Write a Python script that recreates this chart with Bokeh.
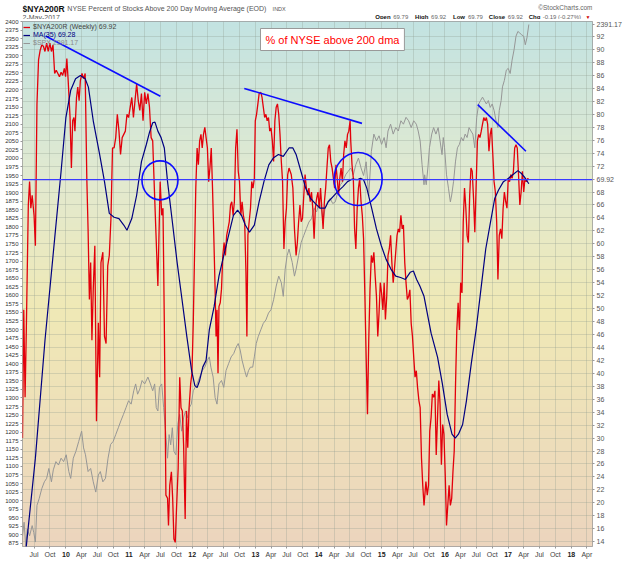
import numpy as np
from bokeh.plotting import figure
from bokeh.layouts import column
from bokeh.models import (Range1d, LinearAxis, FixedTicker, Span, Label,
                          Legend, LegendItem)
from bokeh.embed import file_html
from bokeh.resources import INLINE

FONT = "Liberation Sans"

# ---------------- data (decimal years) ----------------
red_t = [2009.313, 2009.333, 2009.354, 2009.374, 2009.405, 2009.425, 2009.445, 2009.466, 2009.496, 2009.517,
         2009.542, 2009.567, 2009.593, 2009.618, 2009.644, 2009.669, 2009.695, 2009.720, 2009.746, 2009.771,
         2009.796, 2009.822, 2009.847, 2009.873, 2009.898, 2009.924, 2009.949, 2009.975, 2009.995, 2010.015,
         2010.036, 2010.066, 2010.087, 2010.107, 2010.127, 2010.143, 2010.168, 2010.188, 2010.209, 2010.229,
         2010.255, 2010.280, 2010.305, 2010.331, 2010.351, 2010.372, 2010.392, 2010.412, 2010.433, 2010.458,
         2010.484, 2010.514, 2010.534, 2010.555, 2010.585, 2010.611, 2010.636, 2010.662, 2010.687, 2010.713,
         2010.738, 2010.763, 2010.789, 2010.814, 2010.840, 2010.865, 2010.891, 2010.916, 2010.941, 2010.967,
         2010.992, 2011.018, 2011.043, 2011.069, 2011.094, 2011.120, 2011.145, 2011.170, 2011.196, 2011.221,
         2011.247, 2011.272, 2011.298, 2011.323, 2011.349, 2011.374, 2011.400, 2011.425,
         2011.456, 2011.492, 2011.517, 2011.537, 2011.558, 2011.583, 2011.609, 2011.624, 2011.644, 2011.670,
         2011.690, 2011.710, 2011.731, 2011.751, 2011.777, 2011.802, 2011.822, 2011.843, 2011.863, 2011.888,
         2011.909, 2011.929, 2011.950, 2011.975, 2011.995, 2012.016, 2012.036, 2012.056, 2012.077, 2012.097,
         2012.117, 2012.138, 2012.158, 2012.178, 2012.199, 2012.219, 2012.240, 2012.260, 2012.280, 2012.301,
         2012.321, 2012.341, 2012.362, 2012.377, 2012.392, 2012.408, 2012.423, 2012.443, 2012.463, 2012.484,
         2012.504, 2012.525, 2012.545, 2012.565, 2012.586, 2012.606, 2012.626, 2012.647, 2012.667, 2012.687,
         2012.708, 2012.728, 2012.748, 2012.769, 2012.789, 2012.809, 2012.830, 2012.850, 2012.865, 2012.881,
         2012.901, 2012.922, 2012.942, 2012.962, 2012.983, 2012.998, 2013.018, 2013.039, 2013.059, 2013.085,
         2013.105, 2013.125, 2013.146, 2013.166, 2013.186, 2013.207, 2013.227, 2013.247, 2013.268, 2013.288,
         2013.308, 2013.329, 2013.349, 2013.369, 2013.389, 2013.410, 2013.430, 2013.451, 2013.471, 2013.491,
         2013.511, 2013.532,
         2013.567, 2013.593, 2013.618, 2013.644, 2013.664, 2013.684, 2013.705, 2013.725, 2013.745, 2013.766,
         2013.786, 2013.807, 2013.827, 2013.847, 2013.868, 2013.888, 2013.908, 2013.929, 2013.949, 2013.969,
         2013.990, 2014.010, 2014.031, 2014.051, 2014.071, 2014.092, 2014.112, 2014.132, 2014.153, 2014.173,
         2014.193, 2014.214, 2014.234, 2014.254, 2014.275, 2014.295, 2014.316, 2014.336, 2014.356, 2014.377,
         2014.397, 2014.417, 2014.438, 2014.458, 2014.478, 2014.499, 2014.509, 2014.529, 2014.550, 2014.570,
         2014.590, 2014.611, 2014.631, 2014.651, 2014.672, 2014.692, 2014.712, 2014.733, 2014.753, 2014.774,
         2014.794, 2014.814, 2014.835, 2014.855, 2014.875, 2014.896, 2014.916, 2014.937, 2014.957, 2014.977,
         2014.997, 2015.018, 2015.038, 2015.058, 2015.079, 2015.099, 2015.119, 2015.140, 2015.160, 2015.181,
         2015.201, 2015.221, 2015.242, 2015.262, 2015.282, 2015.303, 2015.323, 2015.343, 2015.364, 2015.384,
         2015.405, 2015.425, 2015.445, 2015.466, 2015.486, 2015.506, 2015.527, 2015.547, 2015.567, 2015.588,
         2015.608, 2015.629, 2015.649, 2015.669,
         2015.699, 2015.720, 2015.740, 2015.760, 2015.781, 2015.801, 2015.821, 2015.842, 2015.862, 2015.883,
         2015.903, 2015.923, 2015.944, 2015.964, 2015.984, 2016.005, 2016.025, 2016.045, 2016.066, 2016.086,
         2016.107, 2016.127, 2016.147, 2016.168, 2016.188, 2016.209, 2016.229, 2016.249, 2016.270, 2016.290,
         2016.310, 2016.331, 2016.351, 2016.371, 2016.392, 2016.412, 2016.432, 2016.453, 2016.473, 2016.493,
         2016.514, 2016.534, 2016.554, 2016.575, 2016.595, 2016.615, 2016.636, 2016.656, 2016.676, 2016.697,
         2016.717, 2016.737, 2016.758, 2016.778, 2016.798, 2016.819, 2016.839, 2016.860, 2016.880, 2016.901,
         2016.921, 2016.941, 2016.962, 2016.982, 2017.002, 2017.023, 2017.043, 2017.063, 2017.084, 2017.104,
         2017.125, 2017.145, 2017.165, 2017.186, 2017.206, 2017.227, 2017.247, 2017.267, 2017.288, 2017.308,
         2017.328]
red_v = [30.0, 49.8, 36.3, 47.0, 66.0, 69.6, 65.5, 67.5, 64.4, 59.7,
         81.6, 88.4, 89.9, 90.7, 90.5, 89.7, 91.0, 89.7, 91.0, 89.7,
         90.7, 86.3, 86.8, 86.3, 85.8, 86.5, 86.0, 87.1, 85.8, 88.6,
         85.2, 79.5, 71.7, 79.0, 79.5, 77.4, 82.6, 84.2, 82.1, 85.2,
         86.3, 85.5, 86.3, 70.1, 62.3, 51.4, 57.1, 45.1, 53.0, 59.7,
         32.6, 47.8, 39.4, 57.1, 58.7, 45.7, 44.6, 56.6, 58.2, 63.9,
         74.8, 74.8, 76.4, 80.0, 77.4, 73.8, 76.4, 76.9, 77.4, 80.0,
         79.5, 81.1, 82.6, 79.5, 82.1, 84.7, 82.1, 80.6, 83.2, 79.0,
         83.4, 81.6, 83.2, 81.1, 76.4, 75.9, 68.6, 61.8,
         53.5, 69.6, 64.4, 65.5, 47.7, 21.2, 20.7, 16.5, 22.7, 24.8,
         20.7, 14.4, 13.9, 19.1, 25.3, 39.4, 34.7, 34.2, 29.0, 17.5,
         34.2, 28.5, 34.7, 38.4, 40.0, 47.7, 58.2, 68.6, 74.8, 72.2,
         75.9, 76.9, 74.8, 76.9, 78.0, 76.4, 74.8, 69.6, 71.7, 74.8,
         68.6, 61.3, 53.0, 45.7, 49.8, 40.0, 50.3, 50.9, 53.0, 58.2,
         60.2, 58.2, 61.3, 62.3, 63.4, 66.0, 66.5, 64.4, 66.5, 74.8,
         77.7, 71.2, 69.6, 64.4, 66.5, 64.4, 63.4, 55.6, 45.7, 61.3,
         63.4, 65.5, 69.6, 68.6, 70.1, 79.0, 80.0, 81.6, 83.2, 83.4,
         82.6, 81.1, 79.5, 80.0, 79.0, 79.5, 77.4, 77.9, 75.9, 72.7,
         79.0, 81.1, 81.6, 80.0, 76.9, 72.7, 69.6, 59.2, 63.4, 65.5,
         70.7, 71.7,
         70.7, 68.6, 62.3, 58.2, 60.2, 63.4, 66.0, 63.4, 63.9, 67.5,
         70.7, 68.6, 67.5, 68.6, 66.5, 68.0, 65.5, 60.8, 65.5, 67.0,
         68.0, 65.5, 68.6, 65.5, 62.3, 66.5, 68.6, 71.7, 74.8, 75.3,
         72.7, 71.7, 70.1, 68.6, 72.2, 70.1, 67.5, 70.1, 71.7, 69.6,
         73.8, 75.9, 74.8, 76.9, 77.4, 79.0, 75.9, 72.2, 70.1, 62.3,
         59.2, 65.5, 68.6, 70.1, 66.5, 64.4, 60.8, 51.9, 42.5, 33.7,
         45.1, 53.0, 58.2, 57.1, 58.7, 55.0, 51.9, 45.7, 49.3, 54.0,
         52.4, 49.8, 54.0, 48.3, 51.9, 58.2, 59.2, 61.3, 57.1, 54.0,
         56.1, 58.7, 61.3, 62.3, 61.8, 64.4, 62.3, 62.9, 57.1, 54.0,
         51.4, 51.9, 52.9, 47.7, 45.7, 42.5, 39.4, 40.4, 37.8, 35.8,
         34.7, 26.9, 22.7, 19.6,
         23.3, 21.2, 22.7, 31.1, 33.2, 36.8, 36.3, 37.3, 27.4, 33.2,
         38.9, 35.2, 25.9, 32.1, 30.6, 24.3, 16.5, 19.6, 22.7, 19.6,
         20.7, 24.8, 28.0, 38.4, 46.7, 50.9, 46.7, 54.0, 52.4, 63.4,
         68.6, 65.5, 61.3, 60.2, 67.5, 71.7, 71.2, 67.0, 61.8, 68.6,
         75.9, 76.9, 76.4, 77.4, 78.5, 79.5, 79.0, 79.5, 78.5, 74.3,
         76.9, 77.9, 73.8, 69.6, 68.0, 63.4, 54.5, 61.3, 62.3, 60.8,
         65.5, 68.0, 66.5, 65.5, 70.1, 69.6, 70.7, 70.1, 71.2, 74.8,
         75.3, 74.8, 70.7, 66.0, 68.0, 71.2, 68.0, 70.1, 69.6, 70.1,
         69.92]

ma_t = [2009.330, 2009.374, 2009.517, 2009.669, 2009.822, 2009.924, 2010.000, 2010.076, 2010.153, 2010.229,
        2010.305, 2010.356, 2010.433, 2010.534, 2010.611, 2010.687, 2010.763, 2010.840, 2010.916, 2010.967,
        2011.043, 2011.120, 2011.196, 2011.272, 2011.323, 2011.374, 2011.410, 2011.456, 2011.507, 2011.558,
        2011.609, 2011.685, 2011.761, 2011.838, 2011.914, 2011.990, 2012.041, 2012.077, 2012.117, 2012.168,
        2012.219, 2012.270, 2012.346, 2012.423, 2012.499, 2012.575, 2012.652, 2012.718, 2012.779, 2012.840,
        2012.906, 2012.983, 2013.059, 2013.135, 2013.212, 2013.288, 2013.364, 2013.441, 2013.532, 2013.593,
        2013.644, 2013.720, 2013.796, 2013.873, 2013.949, 2014.025, 2014.102, 2014.153, 2014.229, 2014.305,
        2014.382, 2014.458, 2014.534, 2014.611, 2014.662, 2014.712, 2014.763, 2014.840, 2014.916, 2014.993,
        2015.069, 2015.145, 2015.221, 2015.298, 2015.374, 2015.450, 2015.501, 2015.552, 2015.603, 2015.669,
        2015.781, 2015.883, 2015.959, 2016.035, 2016.112, 2016.163, 2016.214, 2016.280, 2016.341, 2016.417,
        2016.493, 2016.570, 2016.646, 2016.722, 2016.788, 2016.849, 2016.926, 2017.002, 2017.079, 2017.155,
        2017.206, 2017.267, 2017.328]
ma_v = [11.0, 13.4, 26.9, 45.1, 60.8, 71.2, 79.5, 83.7, 85.5, 86.0,
        85.5, 84.2, 79.0, 73.8, 69.6, 64.7, 64.1, 63.9, 62.9, 62.1,
        63.9, 67.5, 72.7, 75.3, 77.2, 78.7, 78.8, 77.4, 76.4, 74.8,
        69.6, 63.4, 57.1, 51.4, 45.7, 40.4, 38.1, 37.8, 38.9, 41.0,
        42.0, 46.7, 50.3, 55.0, 58.2, 61.3, 64.4, 65.2, 64.4, 62.9,
        61.8, 62.9, 66.5, 69.6, 72.2, 73.3, 73.8, 73.5, 74.8, 74.8,
        73.8, 71.2, 68.6, 67.0, 66.2, 65.5, 65.5, 66.5, 67.3, 68.1,
        68.8, 69.6, 70.0, 69.9, 70.1, 69.9, 68.6, 65.5, 62.3, 59.7,
        57.6, 56.1, 55.0, 54.8, 54.5, 55.6, 55.8, 54.5, 53.5, 51.9,
        46.2, 42.5, 38.4, 33.7, 30.6, 30.0, 30.6, 32.1, 35.8, 41.5,
        46.7, 53.0, 59.2, 63.4, 67.0, 68.3, 69.6, 70.1, 70.7, 71.3,
        70.9, 70.2, 69.28]

spx_t = [2009.313, 2009.338, 2009.364, 2009.389, 2009.425, 2009.466, 2009.491, 2009.517, 2009.542, 2009.577,
         2009.618, 2009.659, 2009.695, 2009.730, 2009.771, 2009.801, 2009.842, 2009.883, 2009.924, 2009.964,
         2010.005, 2010.046, 2010.076, 2010.117, 2010.158, 2010.203, 2010.249, 2010.280, 2010.310, 2010.351,
         2010.392, 2010.433, 2010.473, 2010.514, 2010.545, 2010.585, 2010.626, 2010.667, 2010.707, 2010.748,
         2010.789, 2010.830, 2010.870, 2010.911, 2010.952, 2010.992, 2011.033, 2011.074, 2011.104, 2011.135,
         2011.170, 2011.206, 2011.247, 2011.298, 2011.338, 2011.374,
         2011.405, 2011.430, 2011.456, 2011.481, 2011.517, 2011.547, 2011.578, 2011.609, 2011.634, 2011.659,
         2011.685, 2011.710, 2011.741, 2011.771, 2011.802, 2011.832, 2011.863, 2011.893, 2011.924, 2011.955,
         2011.985, 2012.016, 2012.046, 2012.077, 2012.117, 2012.158, 2012.199, 2012.240, 2012.270, 2012.295,
         2012.331, 2012.362, 2012.392, 2012.423, 2012.463, 2012.499, 2012.535, 2012.575, 2012.616, 2012.657,
         2012.697, 2012.728, 2012.759, 2012.789, 2012.830, 2012.860, 2012.891, 2012.921, 2012.957, 2012.983,
         2013.013, 2013.044, 2013.085, 2013.125, 2013.166, 2013.207, 2013.247, 2013.288, 2013.329, 2013.369,
         2013.410, 2013.441, 2013.471, 2013.502, 2013.532,
         2013.583, 2013.618, 2013.644, 2013.684, 2013.725, 2013.766, 2013.807, 2013.847, 2013.888, 2013.929,
         2013.969, 2014.010, 2014.041, 2014.071, 2014.102, 2014.143, 2014.183, 2014.224, 2014.265, 2014.305,
         2014.346, 2014.387, 2014.428, 2014.468, 2014.509, 2014.550, 2014.590, 2014.631, 2014.672, 2014.712,
         2014.753, 2014.794, 2014.835, 2014.875, 2014.916, 2014.957, 2014.997, 2015.038, 2015.069, 2015.099,
         2015.140, 2015.181, 2015.221, 2015.262, 2015.303, 2015.343, 2015.384, 2015.425, 2015.466, 2015.506,
         2015.547, 2015.577, 2015.608, 2015.638, 2015.669,
         2015.679, 2015.704, 2015.730, 2015.755, 2015.791, 2015.821, 2015.857, 2015.893, 2015.923, 2015.954,
         2015.974, 2015.994, 2016.025, 2016.056, 2016.086, 2016.107, 2016.137, 2016.168, 2016.198, 2016.229,
         2016.260, 2016.290, 2016.320, 2016.351, 2016.382, 2016.412, 2016.442, 2016.473, 2016.503, 2016.534,
         2016.564, 2016.595, 2016.625, 2016.656, 2016.687, 2016.717, 2016.748, 2016.778, 2016.809, 2016.839,
         2016.860, 2016.890, 2016.911, 2016.941, 2016.972, 2017.002, 2017.033, 2017.063, 2017.094, 2017.125,
         2017.155, 2017.186, 2017.216, 2017.247, 2017.272, 2017.298, 2017.328]
spx_v = [897, 937, 868, 917, 897, 927, 907, 879, 986, 1006,
         1035, 1055, 1065, 1094, 1055, 1090, 1114, 1104, 1124, 1114,
         1134, 1085, 1065, 1124, 1144, 1173, 1203, 1154, 1134, 1085,
         1094, 1055, 1025, 1075, 1085, 1055, 1065, 1124, 1164, 1173,
         1193, 1213, 1233, 1252, 1272, 1292, 1282, 1321, 1341, 1311,
         1326, 1351, 1341, 1361, 1341, 1321,
         1341, 1272, 1262, 1331, 1341, 1272, 1203, 1124, 1193, 1163,
         1213, 1144, 1134, 1223, 1252, 1203, 1242, 1262, 1242, 1272,
         1282, 1321, 1331, 1341, 1361, 1380, 1390, 1410, 1420, 1390,
         1361, 1301, 1282, 1341, 1351, 1331, 1380, 1400, 1420, 1430,
         1449, 1459, 1440, 1410, 1380, 1361, 1380, 1390, 1390, 1420,
         1459, 1479, 1499, 1518, 1528, 1548, 1558, 1587, 1627, 1656,
         1637, 1597, 1676, 1716, 1735,
         1696, 1656, 1676, 1716, 1755, 1775, 1795, 1814, 1824, 1854,
         1844, 1873, 1854, 1814, 1854, 1873, 1883, 1868, 1873, 1903,
         1923, 1933, 1952, 1962, 1972, 1952, 1982, 2001, 1972, 1950,
         1990, 1890, 2020, 2071, 2051, 2066, 2041, 2061, 2031, 2080,
         2100, 2071, 2090, 2080, 2110, 2100, 2120, 2110, 2090, 2110,
         2100, 2080, 2051, 1982, 1923,
         1952, 1923, 1972, 2031, 2071, 2090, 2071, 2090, 2051, 2011,
         2061, 2031, 1952, 1913, 1873, 1893, 1933, 1992, 2031, 2041,
         2061, 2051, 2071, 2061, 2090, 2080, 2071, 2031, 2120, 2159,
         2169, 2179, 2169, 2159, 2169, 2149, 2159, 2140, 2110, 2090,
         2140, 2169, 2209, 2228, 2258, 2263, 2248, 2287, 2317, 2357,
         2371, 2366, 2361, 2357, 2332, 2352, 2391.17]

# annotations drawn on the chart (trend lines and circles)
trend_t = [[2009.679, 2011.496], [2012.824, 2014.687], [2016.519, 2017.282]]
trend_v = [[92.1, 82.8], [84.0, 78.6], [81.5, 74.3]]
circle_t = [2011.489, 2014.626]
circle_v = [69.8, 70.0]

# tick labels
tick_years = list(range(2009, 2019))
month_names = ["Jan", "Apr", "Jul", "Oct"]
month_offsets = [0.0, 90 / 365, 181 / 365, 273 / 365]
pct_ticks = list(range(14, 93, 2))
spx_ticks = list(range(875, 2401, 25))
last_pct = 69.92
last_spx = 2391.17

X0, X1 = 2009.313, 2018.336
Y0, Y1 = 13.26, 94.33
S0, S1 = 866.0, 2400.0

W = 624
HH = 19                      # header strip height
H = 560 - HH                 # main figure height
BL, BR, BT, BB = 22, 30, 2, 14
FW, FH = W - BL - BR, H - BT - BB

# ---------------- header strip (frame aligned with the chart frame) ----------------
hdr = figure(width=W, height=HH, x_range=Range1d(0, FW), y_range=Range1d(0, HH),
             x_axis_type=None, y_axis_type=None, output_backend="svg",
             toolbar_location=None, title=None,
             min_border_left=BL, min_border_right=BR, min_border_top=0, min_border_bottom=0)
hdr.outline_line_color = None
hdr.background_fill_color = "white"
hdr.border_fill_color = "white"
hdr.grid.visible = False


def hlab(text, x, y, size, color="#000", style="normal", align="left"):
    hdr.add_layout(Label(x=x, y=y, text=text, text_font=FONT, text_font_size=f"{size}px",
                         text_color=color, text_font_style=style, text_align=align,
                         text_baseline="alphabetic"))


hlab("$NYA200R", 0, 11, 8.5, "#111", "bold")
hlab("NYSE Percent of Stocks Above 200 Day Moving Average (EOD)", 45, 11, 7, "#555")
hlab("INDX", 251, 11, 5.5, "#555")
hlab("2-May-2017", 0, 2.5, 7, "#555")
hlab("\u00a9StockCharts.com", FW, 12, 6.5, "#666", align="right")
ohlc = [("Open", 218, True), ("69.79", 200, False), ("High", 178, True), ("69.92", 162, False),
        ("Low", 140, True), ("69.79", 125, False), ("Close", 104, True), ("69.92", 85, False),
        ("Chg", 64, True), ("-0.19 (-0.27%)", 50, False)]
for txt, off, bold in ohlc:
    hlab(txt, FW - off, 2.5, 6, "#111" if bold else "#666", "bold" if bold else "normal")
hlab("\u25bc", FW - 7, 3, 5, "#d00000")

# ---------------- main chart ----------------
p = figure(width=W, height=H, title=None,
           x_range=Range1d(X0, X1), y_range=Range1d(Y0, Y1),
           y_axis_location="right", output_backend="svg", toolbar_location=None,
           min_border_left=BL, min_border_right=BR, min_border_top=BT, min_border_bottom=BB)
p.extra_y_ranges = {"spx": Range1d(S0, S1)}
p.background_fill_color = "#f0e8c0"
p.border_fill_color = "white"
p.outline_line_color = "#9a9a9a"

# gradient background
grad_stops = [0.0, 0.3, 0.55, 0.78, 1.0]
grad_cols = [(195, 227, 226), (226, 234, 208), (240, 233, 182), (238, 223, 186), (236, 213, 190)]
n = 200
frac_top = 1 - np.arange(n) / (n - 1)
img = np.zeros((n, 1), dtype=np.uint32)
view = img.view(dtype=np.uint8).reshape((n, 1, 4))
for k in range(3):
    view[:, 0, k] = np.interp(frac_top, grad_stops, [c[k] for c in grad_cols]).astype(np.uint8)
view[:, 0, 3] = 255
p.image_rgba(image=[img], x=X0, y=Y0, dw=X1 - X0, dh=Y1 - Y0, level="image")

# x ticks
tick_pos, tick_lab, year_pos, year_txt = [], [], [], []
for yr in tick_years:
    for m, off in zip(month_names, month_offsets):
        pos = round(yr + off, 3)
        if X0 <= pos <= X1:
            tick_pos.append(pos)
            if m == "Jan":
                tick_lab.append("")
                year_pos.append(pos)
                year_txt.append(f"{yr % 100:02d}")
            else:
                tick_lab.append(m)

xa = p.xaxis[0]
xa.ticker = FixedTicker(ticks=tick_pos)
xa.major_label_overrides = {t: l for t, l in zip(tick_pos, tick_lab)}
xa.major_label_text_font = FONT
xa.major_label_text_font_size = "7px"
xa.major_label_text_color = "#444"
xa.major_tick_out = 2
xa.major_tick_in = 0
xa.minor_tick_line_color = None
xa.major_label_standoff = 2
xa.axis_line_color = None
xa.major_tick_line_color = "#999"

# bold year labels: a second bottom axis pulled up into the month row
xy = LinearAxis(ticker=FixedTicker(ticks=year_pos),
                major_label_overrides={t: l for t, l in zip(year_pos, year_txt)},
                major_label_text_font=FONT, major_label_text_font_size="7px",
                major_label_text_font_style="bold", major_label_text_color="#222",
                major_tick_out=0, major_tick_in=0, major_tick_line_color=None,
                minor_tick_line_color=None, axis_line_color=None,
                major_label_standoff=-9)
p.add_layout(xy, "below")

# right axis: percent scale, with the two last-value tags
spx_as_pct = Y0 + (last_spx - S0) / (S1 - S0) * (Y1 - Y0)
r_ticks = [t for t in pct_ticks if t != 70] + [last_pct, spx_as_pct]
r_over = {last_pct: f"{last_pct:.2f}", spx_as_pct: f"{last_spx:.2f}"}
ya = p.yaxis[0]
ya.ticker = FixedTicker(ticks=r_ticks)
ya.major_label_overrides = r_over
ya.major_label_text_font = FONT
ya.major_label_text_font_size = "7px"
ya.major_label_text_color = "#555"
ya.major_tick_out = 2
ya.major_tick_in = 0
ya.minor_tick_line_color = None
ya.major_label_standoff = 2
ya.axis_line_color = None
ya.major_tick_line_color = "#999"

la = LinearAxis(y_range_name="spx", ticker=FixedTicker(ticks=spx_ticks),
                major_label_text_font=FONT, major_label_text_font_size="6px",
                major_label_text_color="#333", major_tick_out=2, major_tick_in=0,
                minor_tick_line_color=None, major_label_standoff=2,
                axis_line_color=None, major_tick_line_color="#999")
p.add_layout(la, "left")

p.xgrid.ticker = FixedTicker(ticks=tick_pos)
p.ygrid.ticker = FixedTicker(ticks=[t for t in pct_ticks if t != 70])
p.grid.grid_line_color = "#8f9a8f"
p.grid.grid_line_alpha = 0.3
p.grid.grid_line_width = 1

# series
r_spx = p.line(spx_t, spx_v, y_range_name="spx", line_color="#969696", line_width=1)
r_red = p.line(red_t, red_v, line_color="#e3000b", line_width=1.3)
r_ma = p.line(ma_t, ma_v, line_color="#000080", line_width=1.2)

# current-value line drawn as a glyph across the full x range
p.line(x=[X0, X1], y=[last_pct, last_pct], line_color="#3a3aff", line_width=1.1)

p.multi_line(trend_t, trend_v, line_color="#0c0cff", line_width=1.6)
p.ellipse(x=circle_t, y=circle_v, width=[36, 48], height=[39, 53],
          width_units="screen", height_units="screen",
          fill_alpha=0, line_color="#0c0cff", line_width=1.6)

# legends
for r, txt, col, yb in [(r_red, "$NYA200R (Weekly) 69.92", "#444444", FH - 9),
                        (r_ma, "MA(35) 69.28", "#000080", FH - 17),
                        (r_spx, "$SPX 2391.17", "#8a8a8a", FH - 25)]:
    lg = Legend(items=[LegendItem(label=txt, renderers=[r])], location=(1, yb),
                label_text_font=FONT, label_text_font_size="7px", label_text_color=col,
                glyph_width=7, glyph_height=6, label_height=6, label_standoff=3,
                padding=0, margin=0, spacing=0,
                background_fill_alpha=0, border_line_alpha=0)
    p.add_layout(lg)

# annotation text box
p.add_layout(Label(x=238, y=FH - 18, x_units="screen", y_units="screen",
                   text="% of NYSE above 200 dma", text_font=FONT, text_font_size="11px",
                   text_color="#ff0000", text_baseline="middle",
                   background_fill_color="white", border_line_color="#999999", padding=5))

layout = column(hdr, p, spacing=0)
open("out.html", "w").write(file_html(layout, INLINE))
